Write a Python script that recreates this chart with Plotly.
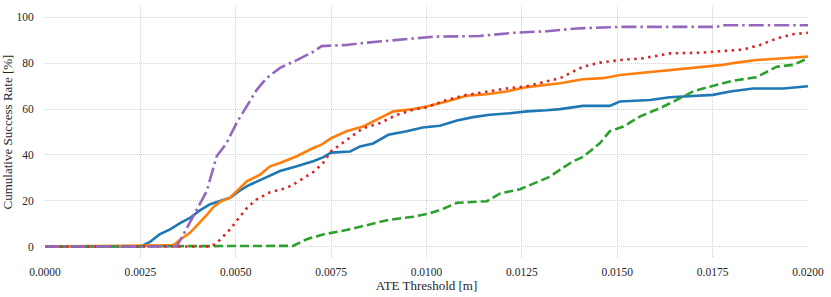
import plotly.graph_objects as go

blue_x = [0, 0.0025, 0.00275, 0.0030, 0.00328, 0.00354, 0.0038, 0.00406, 0.00433, 0.00459, 0.00485, 0.00511,
          0.00537, 0.00564, 0.0059, 0.00616, 0.0066, 0.00703, 0.0073, 0.0075, 0.0080, 0.00826, 0.0086, 0.0090,
          0.00948, 0.0099, 0.01035, 0.0108, 0.01122, 0.01166, 0.01219, 0.01263, 0.01315, 0.0135, 0.0141, 0.0148,
          0.01507, 0.01586, 0.01638, 0.0169, 0.01751, 0.01796, 0.01856, 0.01935, 0.02]
blue_y = [0, 0, 2, 5.3, 7.5, 10.2, 12.5, 15.8, 18.5, 19.8, 21.3, 24.5,
          27, 29, 31, 33, 35, 37.2, 39, 41, 41.5, 43.7, 45, 48.8,
          50.3, 52, 52.7, 55, 56.5, 57.5, 58.2, 59, 59.5, 60, 61.4, 61.4,
          63.3, 64, 65.2, 65.8, 66.2, 67.7, 69, 69, 70]

orange_x = [0, 0.0030, 0.0033, 0.0034, 0.00354, 0.0038, 0.00398, 0.0042, 0.0044, 0.00459, 0.00485, 0.00511,
            0.00529, 0.00564, 0.0059, 0.00616, 0.0066, 0.00703, 0.00725, 0.0075, 0.0079, 0.00834, 0.00878,
            0.00913, 0.00965, 0.0100, 0.01053, 0.01105, 0.01158, 0.0121, 0.01263, 0.01315, 0.0135, 0.0141,
            0.01463, 0.01507, 0.01568, 0.01638, 0.01717, 0.01777, 0.01813, 0.01865, 0.01935, 0.02]
orange_y = [0, 0.3, 0.5, 1, 3, 6, 9, 13, 17, 19.5, 21.3, 25.5,
            28.5, 31.4, 35, 36.5, 39.4, 43, 44.5, 47.3, 50.3, 52.4, 56,
            59, 60, 61.1, 63.3, 65.8, 66.5, 67.7, 69.6, 70.6, 71.3, 73,
            73.5, 74.9, 75.9, 77, 78.5, 79.3, 80.3, 81.4, 82.2, 82.9]

green_x = [0, 0.0059, 0.0062, 0.0065, 0.00686, 0.00729, 0.0079, 0.00852, 0.0090, 0.00965, 0.01009, 0.01044,
           0.0108, 0.01158, 0.01193, 0.01245, 0.01289, 0.01324, 0.0135, 0.01384, 0.0141, 0.01455, 0.0148,
           0.01516, 0.0156, 0.01612, 0.01656, 0.01699, 0.01743, 0.01804, 0.01865, 0.01918, 0.01961, 0.02]
green_y = [0, 0, 0.3, 0.3, 3.2, 5.3, 7.2, 9.7, 11.6, 13, 14.5, 16.5,
           19.1, 19.8, 23.2, 25, 28, 30.5, 33.6, 37.2, 39.1, 45.2, 50.3,
           52.4, 56.8, 60.4, 64, 67.7, 69.8, 72.4, 73.9, 78.5, 79.3, 82.2]

red_x = [0, 0.00433, 0.0045, 0.00459, 0.00485, 0.00506, 0.0053, 0.00555, 0.0059, 0.00634, 0.0066, 0.00703,
         0.00729, 0.0075, 0.0079, 0.00834, 0.00878, 0.00922, 0.00965, 0.0100, 0.01053, 0.01105, 0.01158,
         0.0121, 0.01263, 0.01315, 0.0135, 0.01367, 0.0141, 0.01455, 0.01507, 0.01568, 0.01638, 0.01717,
         0.01777, 0.0183, 0.01874, 0.01918, 0.01961, 0.02]
red_y = [0, 0, 1.5, 3, 7.5, 12, 17, 20.6, 23.7, 25.6, 28, 32.5,
         36.5, 41.6, 46.6, 51.7, 53.9, 57.5, 59.7, 60.8, 64, 66.2, 67.6,
         69, 70, 72, 73.5, 74.9, 78.5, 80.3, 81.4, 82.2, 84.3, 84.6,
         85.5, 86, 88, 90.8, 92.7, 93.3]

purple_x = [0, 0.00345, 0.0037, 0.00398, 0.00424, 0.0045, 0.00476, 0.00502, 0.00529, 0.00555, 0.00581,
            0.00616, 0.0066, 0.00703, 0.00725, 0.0079, 0.00843, 0.0090, 0.00965, 0.01018, 0.0114, 0.01228,
            0.01315, 0.01393, 0.01507, 0.0176, 0.01777, 0.02]
purple_y = [0, 0, 7.5, 16.2, 24.2, 39.4, 45.2, 53.9, 61.1, 68.4, 73.5,
            78, 81.4, 85, 87.5, 88, 89, 89.8, 90.8, 91.6, 91.9, 93.3,
            94, 95.2, 95.9, 95.9, 96.6, 96.6]

x_ticks = [0.0, 0.0025, 0.005, 0.0075, 0.01, 0.0125, 0.015, 0.0175, 0.02]
x_grid = x_ticks[1:-1]
y_ticks = [0, 20, 40, 60, 80, 100]

series = [
    (blue_x, blue_y, "#1f77b4", "solid"),
    (orange_x, orange_y, "#ff7f0e", "solid"),
    (green_x, green_y, "#2ca02c", "9px,4px"),
    (red_x, red_y, "#d62728", "2.5px,4.5px"),
    (purple_x, purple_y, "#9467bd", "15px,4px,2.5px,4px"),
]

fig = go.Figure()
for xs, ys, col, dash in series:
    fig.add_trace(go.Scatter(x=xs, y=ys, mode="lines",
                             line=dict(color=col, width=2.6, dash=dash),
                             showlegend=False))

font = "Liberation Serif"
grid_col = "#d2d2d2"
fig.update_layout(
    width=831, height=297,
    margin=dict(l=45, r=23, t=6, b=39, autoexpand=False),
    paper_bgcolor="white", plot_bgcolor="white",
    font=dict(family=font, size=11.5, color="#262626"),
    showlegend=False,
)
fig.update_xaxes(
    range=[0, 0.02], tickvals=x_ticks, tickformat=".4f",
    showgrid=False,
    minor=dict(tickvals=x_grid, showgrid=True, gridcolor=grid_col, gridwidth=1,
               griddash="1px,1px", ticks=""),
    zeroline=False, showline=False,
    ticks="outside", ticklen=3, tickcolor="rgba(0,0,0,0)",
    title=dict(text="ATE Threshold [m]", font=dict(size=13), standoff=0),
)
fig.update_yaxes(
    range=[-5, 105], tickvals=y_ticks,
    showgrid=True, gridcolor=grid_col, gridwidth=1, griddash="1px,1px",
    zeroline=False, showline=False,
    ticks="outside", ticklen=8, tickcolor="rgba(0,0,0,0)",
    title=dict(text="Cumulative Success Rate [%]", font=dict(size=13), standoff=2),
)

fig.write_html("out.html", config={"displayModeBar": False},
               post_script="document.body.style.margin='0';document.body.style.padding='0';")
